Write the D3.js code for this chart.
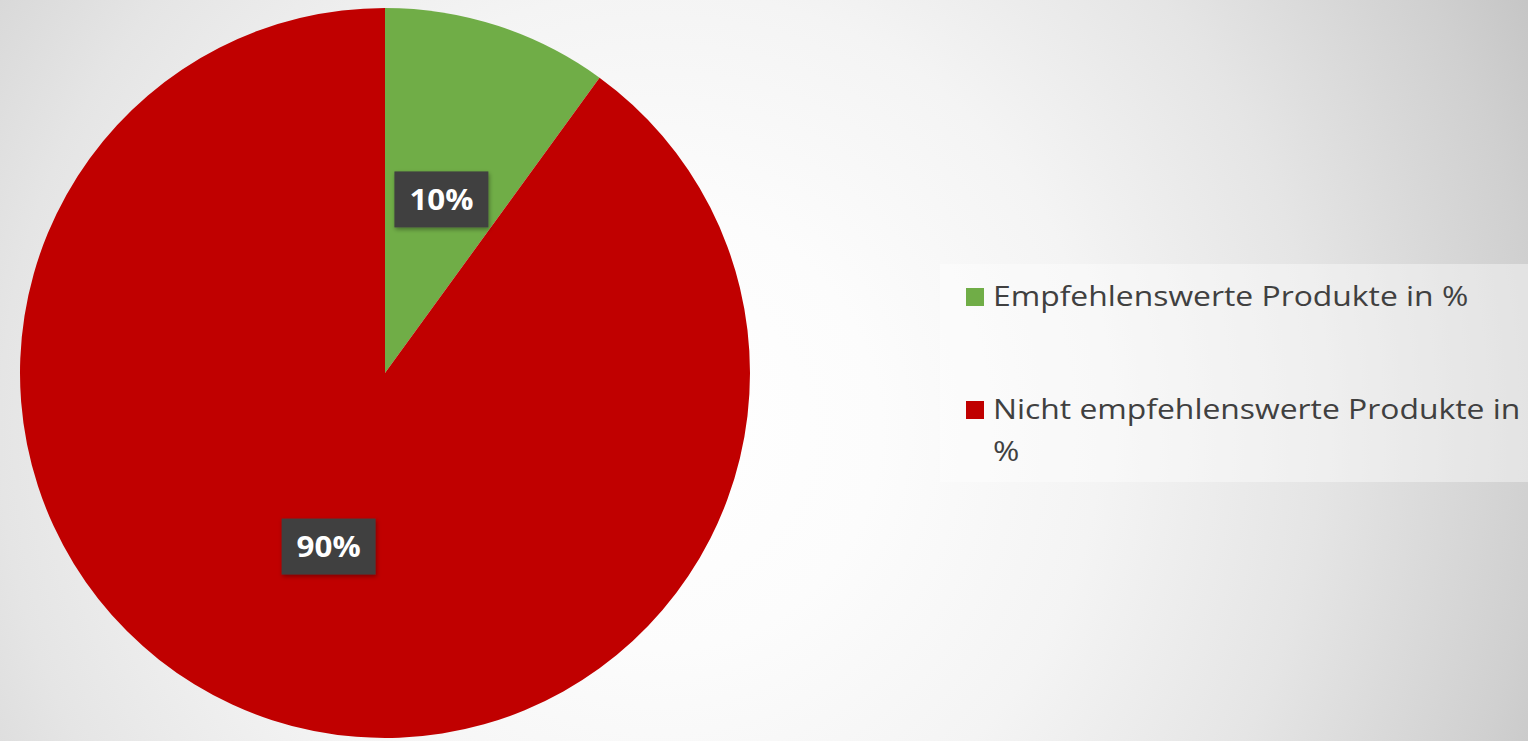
<!DOCTYPE html>
<html>
<head>
<meta charset="utf-8">
<script src="https://cdn.jsdelivr.net/npm/d3@7"></script>
<style>
  html, body { margin: 0; padding: 0; overflow: hidden; background: #ffffff; }
  svg { display: block; }
</style>
</head>
<body>
<svg id="chart" width="1528" height="741"></svg>
<script>
// Share of recommended vs. not recommended products
const categories = ["Empfehlenswerte Produkte in %", "Nicht empfehlenswerte Produkte in %"];
const legendLines = [["Empfehlenswerte Produkte in %"], ["Nicht empfehlenswerte Produkte in", "%"]];
const values = [10, 90];
const labels = ["10%", "90%"];
const colors = ["#70ad47", "#c00000"];

const W = 1528, H = 741;
const svg = d3.select("#chart");
const defs = svg.append("defs");

// soft vignette background
const bg = defs.append("radialGradient")
  .attr("id", "bgGrad")
  .attr("gradientUnits", "userSpaceOnUse")
  .attr("cx", 660).attr("cy", 430).attr("r", 1100);
[[0, 255], [0.2, 252], [0.4, 244], [0.6, 229], [0.8, 208], [1.0, 182]].forEach(([o, v]) => {
  bg.append("stop").attr("offset", o).attr("stop-color", d3.rgb(v, v, v));
});
svg.append("rect").attr("width", W).attr("height", H).attr("fill", "url(#bgGrad)");

// label box shadow
const sh = defs.append("filter").attr("id", "boxShadow")
  .attr("x", "-20%").attr("y", "-20%").attr("width", "140%").attr("height", "140%");
sh.append("feDropShadow").attr("dx", 1).attr("dy", 2).attr("stdDeviation", 2)
  .attr("flood-color", "#000").attr("flood-opacity", 0.35);

// pie
const cx = 385, cy = 373, R = 365;
const pie = d3.pie().value(d => d).sort(null);
const arcs = pie(values);
const arc = d3.arc().innerRadius(0).outerRadius(R);
const labelArc = d3.arc().innerRadius(R * 0.5).outerRadius(R * 0.5);

const g = svg.append("g").attr("transform", `translate(${cx},${cy})`);
g.selectAll("path.slice")
  .data(arcs)
  .join("path")
  .attr("class", "slice")
  .attr("d", arc)
  .attr("fill", (d, i) => colors[i]);

// data labels
const lab = g.selectAll("g.lbl")
  .data(arcs)
  .join("g")
  .attr("class", "lbl")
  .attr("transform", d => `translate(${labelArc.centroid(d)})`);
lab.append("rect")
  .attr("x", -47).attr("y", -28).attr("width", 94).attr("height", 56)
  .attr("fill", "#404040")
  .attr("filter", "url(#boxShadow)");
lab.append("text")
  .attr("text-anchor", "middle")
  .attr("dy", "0.36em")
  .attr("fill", "#ffffff")
  .attr("font-family", "'Open Sans', sans-serif")
  .attr("font-weight", 700)
  .attr("font-size", 29)
  .attr("transform", "scale(1.08,1)")
  .text((d, i) => labels[i]);

// legend
const legend = svg.append("g");
legend.append("rect")
  .attr("x", 940).attr("y", 264).attr("width", 588).attr("height", 218)
  .attr("fill", "#ffffff").attr("opacity", 0.4);
const legendY = [297, 410];
const items = legend.selectAll("g.item")
  .data(categories)
  .join("g")
  .attr("class", "item")
  .attr("transform", (d, i) => `translate(966,${legendY[i]})`);
items.append("rect")
  .attr("x", 0).attr("y", -9).attr("width", 18).attr("height", 18)
  .attr("fill", (d, i) => colors[i]);
items.append("g")
  .attr("transform", "translate(27,0) scale(1.18,1)")
  .append("text")
  .attr("fill", "#404040")
  .attr("font-family", "'Open Sans', sans-serif")
  .attr("font-size", 27)
  .selectAll("tspan")
  .data((d, i) => legendLines[i])
  .join("tspan")
  .attr("x", 0)
  .attr("dy", (d, j) => j === 0 ? "0.35em" : "1.55em")
  .text(d => d);
</script>
</body>
</html>
